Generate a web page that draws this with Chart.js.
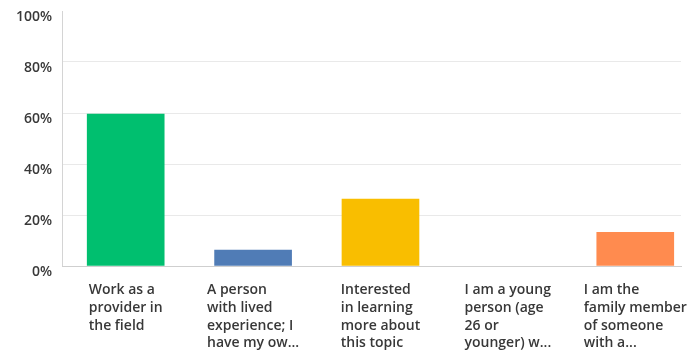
<!DOCTYPE html>
<html>
<head>
<meta charset="utf-8">
<script src="https://cdn.jsdelivr.net/npm/chart.js@4"></script>
<style>
  html, body { margin: 0; padding: 0; background: #fff; overflow: hidden; }
  #wrap { width: 698px; height: 352px; }
</style>
</head>
<body>
<div id="wrap"><canvas id="chart"></canvas></div>
<script>
// Dane z wykresu
const categories = [
    ['Work as a', 'provider in', 'the field'],
    ['A person', 'with lived', 'experience; I', 'have my ow...'],
    ['Interested', 'in learning', 'more about', 'this topic'],
    ['I am a young', 'person (age', '26 or', 'younger) w...'],
    ['I am the', 'family member', 'of someone', 'with a...']
];
const values = [59.6, 6.2, 26.2, 0, 13.2];
const barColors = ['#00bf6f', '#507cb6', '#f9be00', '#6bc8cd', '#ff8b4f'];
const yTicks = [0, 20, 40, 60, 80, 100];

const labelFont = '600 14px "Open Sans"';
const textColor = '#383838';

// Etykiety osi X: blok wyśrodkowany, linie wyrównane do lewej
const xLabelsPlugin = {
    id: 'xLabels',
    afterDraw(chart) {
        const { ctx, scales: { x }, chartArea } = chart;
        ctx.save();
        ctx.font = labelFont;
        ctx.fillStyle = textColor;
        ctx.textBaseline = 'middle';
        ctx.textAlign = 'left';
        categories.forEach((lines, i) => {
            const maxW = Math.max(...lines.map(l => ctx.measureText(l).width));
            const x0 = x.getPixelForValue(i) - maxW / 2;
            lines.forEach((line, j) => {
                ctx.fillText(line, x0, chartArea.bottom + 24 + j * 17.8);
            });
        });
        ctx.restore();
    }
};

new Chart(document.getElementById('chart'), {
    type: 'bar',
    data: {
        datasets: [{
            data: values.map((v, i) => ({ x: i, y: v })),
            // słupek o wartości 0 nie powinien zostawiać kreski
            backgroundColor: (c) => values[c.dataIndex] > 0 ? barColors[c.dataIndex] : 'rgba(0,0,0,0)',
            barThickness: 77
        }]
    },
    options: {
        responsive: true,
        maintainAspectRatio: false,
        animation: false,
        layout: { padding: { top: 11, right: 17, bottom: 86, left: 0 } },
        plugins: { legend: { display: false }, tooltip: { enabled: false } },
        scales: {
            x: {
                type: 'linear',
                offset: false,
                min: -0.5,
                max: 4.359,
                ticks: { display: false },
                grid: { display: false, drawTicks: false },
                border: { color: '#cfcfcf', width: 1, z: 1 }
            },
            y: {
                min: 0,
                max: 100,
                afterFit: (scale) => {
                    scale.width = 62;
                    scale.paddingTop = 0;
                    scale.paddingBottom = 0;
                },
                ticks: {
                    stepSize: 10,
                    padding: 10,
                    labelOffset: 6,
                    color: textColor,
                    font: { family: 'Open Sans', size: 14, weight: '600' },
                    callback: (v) => yTicks.includes(v) ? v + '%' : null
                },
                grid: {
                    drawTicks: false,
                    color: (c) => c.tick.value === 100 ? 'rgba(0,0,0,0)' : '#e9e9e9',
                    lineWidth: 1
                },
                border: { color: '#d4d4d4', width: 1 }
            }
        }
    },
    plugins: [xLabelsPlugin]
});
</script>
</body>
</html>
